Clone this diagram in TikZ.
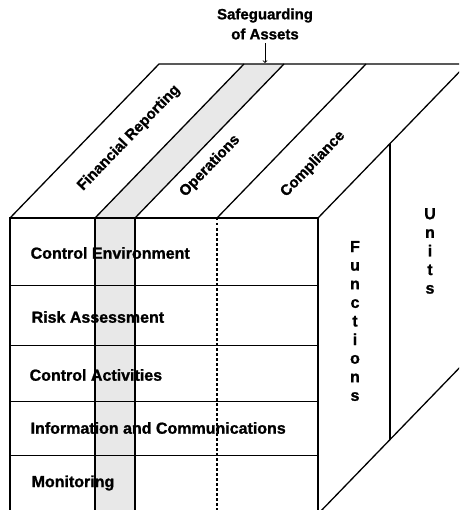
\documentclass[tikz,border=0pt]{standalone}
\usepackage{fontspec}
\setmainfont{Liberation Sans}[BoldFeatures={FakeBold=1.2}]
\usepackage{tikz}

\begin{document}
\begin{tikzpicture}[x=1pt,y=-1pt,line width=1.3pt,
    rowlabel/.style={anchor=west,inner sep=0pt,font=\fontsize{16}{19}\selectfont\bfseries},
    toplabel/.style={rotate=46,inner sep=0pt,font=\fontsize{15}{18}\selectfont\bfseries},
    sidelabel/.style={align=center,inner sep=0pt,font=\fontsize{16}{18.6}\selectfont\bfseries}]
    \clip (0,0) rectangle (459,510);
    \def\dx{149}; \def\dy{154};
    \fill[black!9] (95,218) -- (135,218) -- (135+\dx,218-\dy) -- (95+\dx,218-\dy) -- cycle;
    \fill[black!9] (95,218) rectangle (135,514);
    \draw (10,218) rectangle (318,514);
    \foreach \y in {285,345,401,455} \draw[line width=1pt] (10,\y) -- (318,\y);
    \draw[line width=1.5pt] (95,218) -- (95,514) (135,218) -- (135,514);
    \draw[line width=1.1pt, dash pattern=on 2.5pt off 2.5pt] (217,218) -- (217,514);
    \draw (10,218) -- (10+\dx,218-\dy) -- (318+\dx,218-\dy) -- (318,218);
    \foreach \x in {95,135,217} \draw (\x,218) -- (\x+\dx,218-\dy);
    \draw (318+\dx,218-\dy) -- (318+\dx,514-\dy) -- (318,514);
    \draw (390,218-72*\dy/\dx) -- (390,514-72*\dy/\dx);
    \node[rowlabel] (ce) at (30,253) {Control Environment};
    \node[rowlabel] (ra) at (31,317) {Risk Assessment};
    \node[rowlabel] (ca) at (29,375) {Control Activities};
    \node[rowlabel] (ic) at (30,428) {Information and Communications};
    \node[rowlabel] (mo) at (31,483) {Monitoring};
    \node[toplabel] (fr) at (129,138) {Financial Reporting};
    \node[toplabel] (op) at (210,166) {Operations};
    \node[toplabel] (co) at (313,164) {Compliance};
    \node[align=center,inner sep=0pt,font=\fontsize{15}{20}\selectfont\bfseries] (sa) at (265,24) {Safeguarding\\of Assets};
    \coordinate (sa0) at (265,63);
    \draw[->,line width=.8pt,shorten <=3pt] (sa) -- (sa0);
    \node[sidelabel] (fu) at (355,321) {F\\u\\n\\c\\t\\i\\o\\n\\s};
    \node[sidelabel] (un) at (430,251) {U\\n\\i\\t\\s};
\end{tikzpicture}
\end{document}
